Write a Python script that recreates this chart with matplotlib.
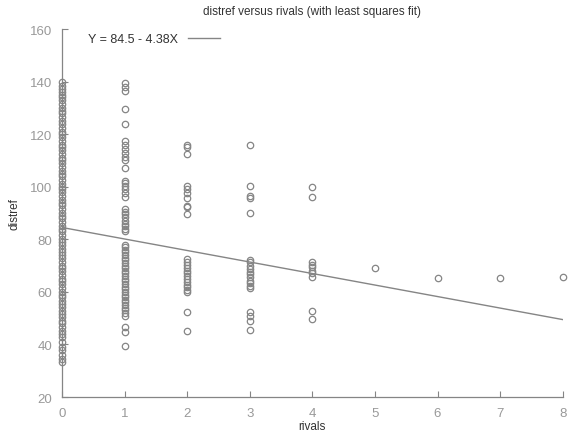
import matplotlib
matplotlib.use("Agg")
import matplotlib.pyplot as plt
import numpy as np

# number of rivals and distance-from-reference observations
rivals_0 = [140, 138.5, 137, 136, 135, 134, 133, 131.5, 130, 129, 128, 126.5, 125, 124, 122.5,
            121, 120, 119, 117.5, 116, 115, 114, 112.5, 111, 110, 109, 107.5, 106, 105, 104,
            102.5, 101, 100, 99, 98, 96.5, 95, 94, 93, 91.5, 90, 89, 88, 86.5, 85, 84, 83,
            81.5, 80, 79, 78, 76.5, 75, 74, 73, 71.5, 70, 69, 68, 66.5, 65, 64, 63, 61.5, 60,
            59, 58, 56.5, 55.5, 54.3, 52.9, 51.6, 50.4, 49.1, 48.1, 46.6, 45.3, 44, 42.8,
            40.9, 39, 37.7, 35.8, 34.5, 33.3]
rivals_1 = [139.5, 138, 136.5, 129.5, 124, 117.5, 116, 114.5, 113, 111.5, 110, 107, 102.3,
            101.5, 100.4, 99.2, 97.5, 96, 91.5, 90.5, 89.5, 88.5, 87, 86, 85, 84, 83,
            78, 77, 76, 75, 74, 73, 72, 71, 70, 69, 68, 67, 66, 65, 64, 63, 62, 61, 60,
            59, 58, 57, 56, 55, 54, 53, 52, 51, 46.6, 44.7, 39.6]
rivals_2 = [116, 115, 112.5, 100.2, 99.2, 97.5, 95.7, 92.8, 92.1, 89.7,
            72.6, 71.5, 70.4, 69.2, 68.1, 67, 66, 65, 63.9, 62.8, 61.7, 60.6, 59.8,
            52.5, 45.3]
rivals_3 = [115.9, 100.2, 96.6, 95.7, 90, 72.3, 71.3, 70, 68.7, 67.7, 66.8, 65.6, 64.3,
            63.4, 62.4, 61.4, 52.5, 51, 49, 45.6]
rivals_4 = [99.8, 96, 71.3, 70.3, 69.4, 68.1, 67.2, 65.6, 52.8, 49.7]
rivals_5 = [69]
rivals_6 = [65.2]
rivals_7 = [65.2]
rivals_8 = [65.8]
groups = [rivals_0, rivals_1, rivals_2, rivals_3, rivals_4,
          rivals_5, rivals_6, rivals_7, rivals_8]

# least squares fit coefficients
intercept = 84.5
slope = -4.38

x_ticks = [0, 1, 2, 3, 4, 5, 6, 7, 8]
y_ticks = [20, 40, 60, 80, 100, 120, 140, 160]

plt.rcParams['font.family'] = ['Liberation Sans', 'DejaVu Sans']

gray = '#858585'
fig = plt.figure(figsize=(5.69, 4.35), dpi=100)
ax = fig.add_axes([0.109, 0.085, 0.880, 0.846])

for k, vals in enumerate(groups):
    ax.plot([k] * len(vals), vals, linestyle='none', marker='o', markersize=4.6,
            markerfacecolor='none', markeredgecolor=gray, markeredgewidth=0.9,
            clip_on=False)

xs = np.array([x_ticks[0], x_ticks[-1]])
ax.plot(xs, intercept + slope * xs, color=gray, linewidth=1.0,
        label=f"Y = {intercept} - {abs(slope)}X")

ax.set_xlim(0, 8)
ax.set_ylim(20, 160)
ax.set_xticks(x_ticks)
ax.set_yticks(y_ticks)

for side in ('top', 'right'):
    ax.spines[side].set_visible(False)
for side in ('left', 'bottom'):
    ax.spines[side].set_color(gray)
    ax.spines[side].set_linewidth(0.9)

ax.tick_params(direction='in', length=4, width=0.8, color=gray,
               labelcolor='#999999', labelsize=9.5, pad=7)

ax.set_title("distref versus rivals (with least squares fit)", fontsize=8.5,
             color='#333333', pad=11)
ax.set_xlabel("rivals", fontsize=8.5, color='#333333', labelpad=1)
ax.set_ylabel("distref", fontsize=8.5, color='#333333', labelpad=7)

ax.legend(loc='upper left', bbox_to_anchor=(0.03, 1.02), frameon=False,
          markerfirst=False, handlelength=2.5, fontsize=9, labelcolor='#333333')

fig.savefig("out.png", dpi=100)
